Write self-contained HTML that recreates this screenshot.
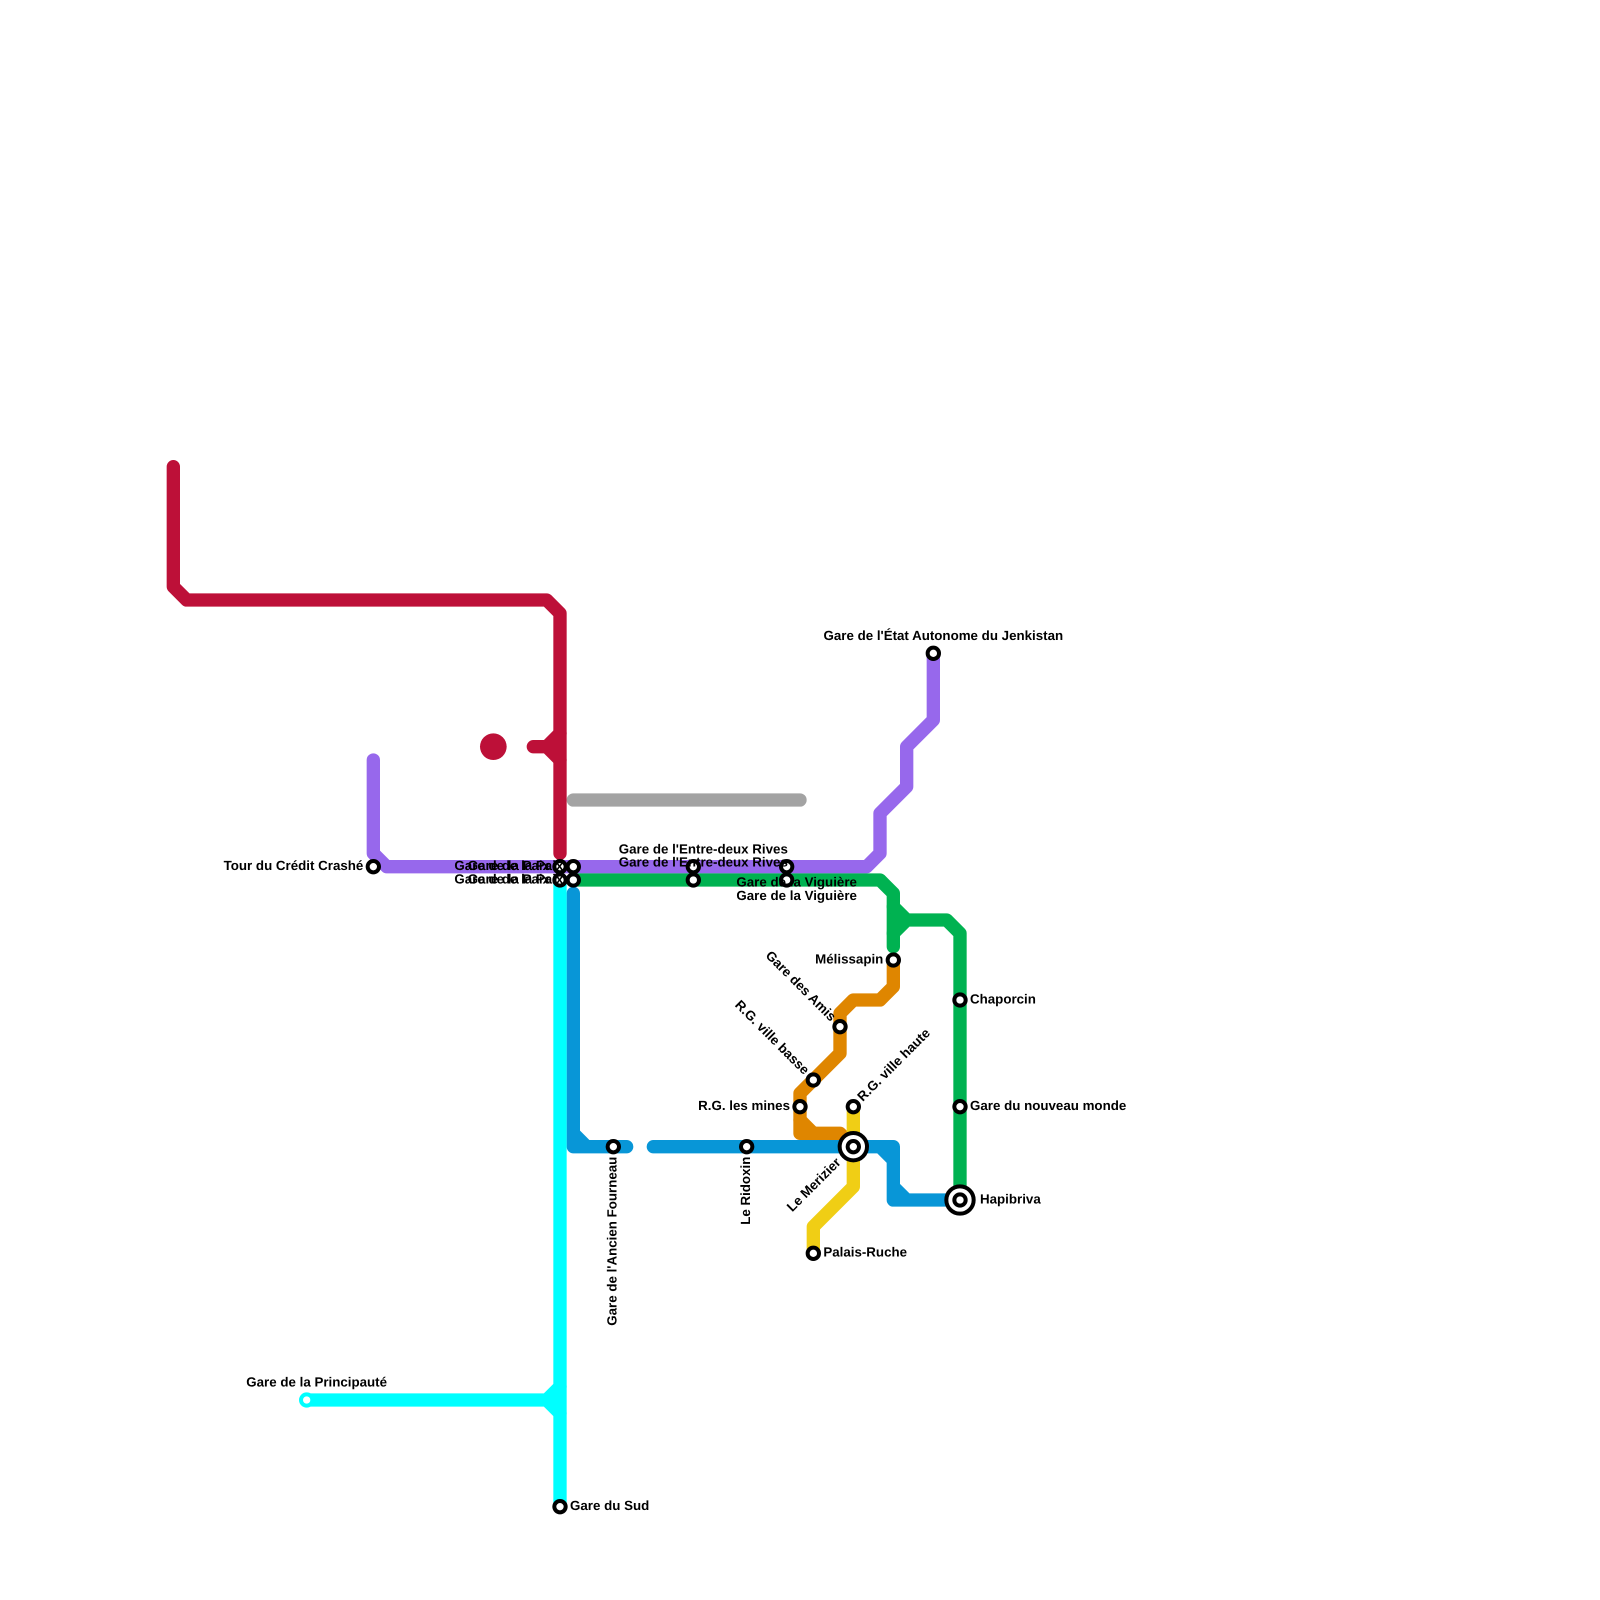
<!DOCTYPE html>
<html><head><meta charset="utf-8"><style>
html,body{margin:0;padding:0;background:#fff}
svg{display:block}
text{font:bold 13.33px "Liberation Sans",Arial,sans-serif;fill:#000;text-rendering:geometricPrecision}
.e{text-anchor:end}.m{text-anchor:middle}
</style></head><body>
<svg xmlns="http://www.w3.org/2000/svg" width="1600" height="1600" viewBox="0 0 1600 1600">
<g transform="scale(13.33333)" fill="none" stroke-width="1" stroke-linecap="round" stroke-linejoin="round">
<g stroke="#a3a3a3"><path d="M43 60H60"/></g>
<g stroke="#bd1038">
<path d="M13 35V44L14 45H41L42 46V64"/>
<path d="M40 56H41L42 55M41 56L42 57"/>
</g>
<circle cx="37" cy="56" r="1" fill="#bd1038"/>
<g stroke="#9768ec">
<path d="M28 57V64L29 65H65L66 64V61L68 59V56L70 54V49"/>
</g>
<g stroke="#00b251">
<path d="M43 66H66L67 67V71"/>
<path d="M67 68L68 69L67 70M68 69H71L72 70V90"/>
</g>
<g stroke="#df8600">
<path d="M67 72V74L66 75H64L63 76V79L60 82V85H63L64 86"/>
<path d="M60 84L61 85"/>
</g>
<g stroke="#f0ce15"><path d="M64 83V89L61 92V94"/></g>
<g stroke="#0896d7">
<path d="M43 67V86H47M43 85L44 86"/>
<path d="M49 86H67V90H72M66 86L67 87M67 89L68 90"/>
</g>
<g stroke="#00ffff">
<path d="M42 66V113"/>
<path d="M23 105H41L42 104M41 105L42 106"/>
</g>
</g>
<g fill="#fff" stroke="#000" stroke-width="4">
<circle cx="373.33" cy="866.67" r="5.67"/>
<circle cx="560" cy="866.67" r="5.67"/>
<circle cx="573.33" cy="866.67" r="5.67"/>
<circle cx="560" cy="880" r="5.67"/>
<circle cx="573.33" cy="880" r="5.67"/>
<circle cx="693.33" cy="866.67" r="5.67"/>
<circle cx="693.33" cy="880" r="5.67"/>
<circle cx="786.67" cy="866.67" r="5.67"/>
<circle cx="786.67" cy="880" r="5.67"/>
<circle cx="933.33" cy="653.33" r="5.67"/>
<circle cx="893.33" cy="960" r="5.67"/>
<circle cx="960" cy="1000" r="5.67"/>
<circle cx="960" cy="1106.67" r="5.67"/>
<circle cx="840" cy="1026.67" r="5.67"/>
<circle cx="813.33" cy="1080" r="5.67"/>
<circle cx="800" cy="1106.67" r="5.67"/>
<circle cx="853.33" cy="1106.67" r="5.67"/>
<circle cx="813.33" cy="1253.33" r="5.67"/>
<circle cx="613.33" cy="1146.67" r="5.67"/>
<circle cx="746.67" cy="1146.67" r="5.67"/>
<circle cx="560" cy="1506.67" r="5.67"/>
<circle cx="306.67" cy="1400" r="5.67" stroke="#00ffff"/>
<circle cx="853.33" cy="1146.67" r="13.67"/>
<circle cx="853.33" cy="1146.67" r="5.67"/>
<circle cx="960" cy="1200" r="13.67"/>
<circle cx="960" cy="1200" r="5.67"/>
</g>
<text class="e" x="363.33" y="870">Tour du Crédit Crashé</text>
<text class="e" x="550" y="870">Gare de la Paix</text>
<text class="e" x="563.33" y="870">Gare de la Paix</text>
<text class="e" x="550" y="883.33">Gare de la Paix</text>
<text class="e" x="563.33" y="883.33">Gare de la Paix</text>
<text class="m" x="703.33" y="853.33">Gare de l'Entre-deux Rives</text>
<text class="m" x="703.33" y="866.67">Gare de l'Entre-deux Rives</text>
<text class="m" x="796.67" y="886.67">Gare de la Viguière</text>
<text class="m" x="796.67" y="900">Gare de la Viguière</text>
<text class="m" x="943.33" y="640">Gare de l'État Autonome du Jenkistan</text>
<text class="e" x="883.33" y="963.33">Mélissapin</text>
<text x="970" y="1003.33">Chaporcin</text>
<text x="970" y="1110">Gare du nouveau monde</text>
<text x="980" y="1203.33">Hapibriva</text>
<text class="e" x="790" y="1110">R.G. les mines</text>
<text x="823.33" y="1256.67">Palais-Ruche</text>
<text x="570" y="1510">Gare du Sud</text>
<text class="m" x="316.67" y="1386.67">Gare de la Principauté</text>
<text class="e" transform="translate(840 1026.67) rotate(45)" x="-10" y="3.33">Gare des Amis</text>
<text class="e" transform="translate(813.33 1080) rotate(45)" x="-10" y="3.33">R.G. ville basse</text>
<text transform="translate(853.33 1106.67) rotate(-45)" x="10" y="3.33">R.G. ville haute</text>
<text class="e" transform="translate(853.33 1146.67) rotate(-45)" x="-20" y="3.33">Le Merizier</text>
<text class="e" transform="translate(746.67 1146.67) rotate(-90)" x="-10" y="3.33">Le Ridoxin</text>
<text class="e" transform="translate(613.33 1146.67) rotate(-90)" x="-10" y="3.33">Gare de l'Ancien Fourneau</text>
</svg>
</body></html>
